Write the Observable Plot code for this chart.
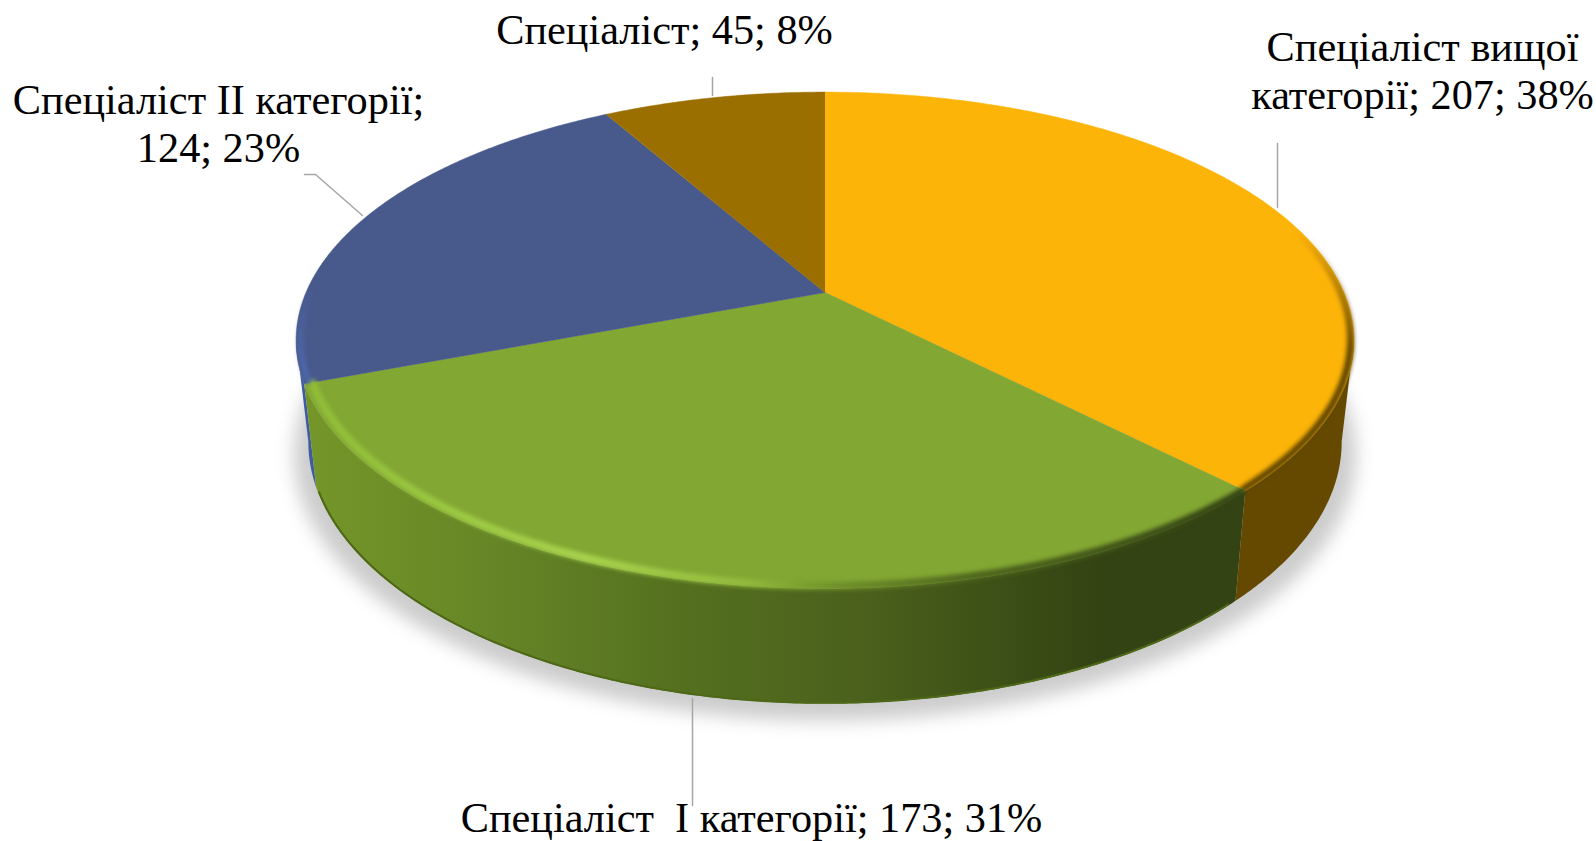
<!DOCTYPE html>
<html lang="uk">
<head>
<meta charset="utf-8">
<script src="https://cdn.jsdelivr.net/npm/d3@7"></script>
<script src="https://cdn.jsdelivr.net/npm/@observablehq/plot@0.6"></script>
<style>
html,body{margin:0;padding:0;background:#fff;overflow:hidden}
svg{display:block}
.shadow{filter:blur(9px)}
.bevel{filter:blur(2.2px)}
</style>
</head>
<body>
<div id="chart"></div>
<script>
// ---- data ----
const categories = ["Спеціаліст вищої категорії", "Спеціаліст\u00A0 І категорії", "Спеціаліст ІІ категорії", "Спеціаліст"];
const counts = [207, 173, 124, 45];
const percents = [38, 31, 23, 8];

// ---- styles ----
const topColors = ["#FDB409", "#83A733", "#48598C", "#9B6E00"];
const font = "Liberation Serif, Times New Roman, serif";

// ---- label layout ----
const labelBreaks = ["Спеціаліст вищої\n", "", "Спеціаліст ІІ категорії;\n", ""];
const labelX = [1422, 751, 218, 664];
const labelY = [69, 816, 122, 28];
const leaderX = [[1277, 1277], [692, 692], [304, 315, 362], [712, 712]];
const leaderY = [[143, 207], [698, 805], [174, 174, 215], [77, 95]];

// ---- perspective disc geometry ----
const k = 0.1926;
const topDisc = {cx: 824.5, cy: 292, R: 519, S: 239};
const baseDisc = {cx: 824.5, cy: 391, R: 507, S: 252};
const pt = (disc, deg, r = 1) => {
  const a = deg * Math.PI / 180, u = r * Math.sin(a), v = -r * Math.cos(a), d = 1 - k * v;
  return [disc.cx + disc.R * u / d, disc.cy + disc.S * v / d];
};
const arc = (disc, a0, a1, r = 1) => {
  const n = Math.max(2, Math.ceil(Math.abs(a1 - a0) * 2));
  return d3.range(n + 1).map(i => {
    const t = i / n;
    return pt(disc, a0 + (a1 - a0) * t, typeof r === "function" ? r(t) : r);
  });
};

// angles derived from the counts
const total = d3.sum(counts);
const stops = [0, ...d3.cumsum(counts)].map(c => c / total * 360);
const [a0, a1, a2, a3, a4] = stops;
const leftTangent = 259, rightTangent = 101;

const wedge = i => [pt(topDisc, 0, 0), ...arc(topDisc, stops[i], stops[i + 1])];
const side = (s, e) => [...arc(topDisc, s, e), ...arc(baseDisc, e, s)];

const poly = (pts, o) => Plot.line(pts, {x: d => d[0], y: d => d[1], stroke: "none", curve: "linear", ...o});
const path = (pts, o) => Plot.line(pts, {x: d => d[0], y: d => d[1], fill: "none", curve: "linear", ...o});

const labels = categories.map((c, i) => {
  const t = `${c}; ${counts[i]}; ${percents[i]}%`;
  const b = labelBreaks[i];
  if (!b) return t;
  const head = b.trimEnd();
  return head + "\n" + t.slice(head.length).trimStart();
});

const defsMark = () => {
  const g = document.createElementNS("http://www.w3.org/2000/svg", "defs");
  g.innerHTML = `
  <linearGradient id="greenSide" gradientUnits="userSpaceOnUse" x1="305" x2="1240" y1="0" y2="0">
    <stop offset="0" stop-color="#759629"/><stop offset=".2" stop-color="#668526"/>
    <stop offset=".4" stop-color="#54701f"/><stop offset=".6" stop-color="#4a601c"/>
    <stop offset=".75" stop-color="#3c4f16"/><stop offset=".85" stop-color="#334313"/><stop offset="1" stop-color="#334313"/>
  </linearGradient>
  <linearGradient id="greenBevel" gradientUnits="userSpaceOnUse" x1="305" x2="1240" y1="0" y2="0">
    <stop offset="0" stop-color="#8fbd38"/><stop offset=".3" stop-color="#a8d34e"/>
    <stop offset=".47" stop-color="#93ba3c"/><stop offset=".57" stop-color="#6f8f2a"/>
    <stop offset=".72" stop-color="#4d651d"/><stop offset="1" stop-color="#334313"/>
  </linearGradient>
  <linearGradient id="yellowBevel" gradientUnits="userSpaceOnUse" x1="0" x2="0" y1="230" y2="350">
    <stop offset="0" stop-color="#5f4500" stop-opacity="0"/><stop offset="1" stop-color="#5f4500" stop-opacity="1"/>
  </linearGradient>
  <linearGradient id="blueBevel" gradientUnits="userSpaceOnUse" x1="0" x2="0" y1="280" y2="360">
    <stop offset="0" stop-color="#4f6bb0" stop-opacity="0"/><stop offset="1" stop-color="#4f6bb0" stop-opacity=".8"/>
  </linearGradient>`;
  return g;
};

const plot = Plot.plot({
  width: 1596, height: 841,
  margin: 0,
  x: {domain: [0, 1596], range: [0, 1596], axis: null},
  y: {domain: [0, 841], range: [0, 841], axis: null},
  style: {background: "#fff"},
  marks: [
    defsMark,
    // ground shadow
    poly(arc({...baseDisc, cy: baseDisc.cy + 12, R: baseDisc.R + 14, S: baseDisc.S + 4}, 0, 360), {fill: "#000", fillOpacity: 0.2, className: "shadow"}),
    // outer walls, back to front
    poly(side(a2, leftTangent), {fill: "#3f5ca3"}),
    poly(side(rightTangent, a1), {fill: "#654900"}),
    poly(side(a1, a2), {fill: "url(#greenSide)"}),
    path(arc(baseDisc, a1 + 1, a2 - 1, 0.998), {stroke: "#4d6817", strokeWidth: 2}),
    // top face
    ...[0, 1, 2, 3].map(i => poly(wedge(i), {fill: topColors[i], stroke: topColors[i], strokeWidth: 0.5})),
    // rounded rim
    path(arc(topDisc, a0 + 60, a1 - 0.4, 0.994), {stroke: "url(#yellowBevel)", strokeWidth: 7, className: "bevel"}),
    path(arc(topDisc, a1 + 0.4, a2 - 0.3, t => 0.997 - 0.011 * t), {stroke: "url(#greenBevel)", strokeWidth: 8, className: "bevel"}),
    path(arc(topDisc, a2 + 0.5, a2 + 30, 0.992), {stroke: "url(#blueBevel)", strokeWidth: 6, className: "bevel"}),
    // leader lines
    ...leaderX.map((xs, i) => Plot.line(xs.map((x, j) => [x, leaderY[i][j]]), {
      x: d => d[0], y: d => d[1], stroke: "#a6a6a6", strokeWidth: 1.5, curve: "linear"
    })),
    // data labels
    Plot.text(labels, {
      x: (d, i) => labelX[i], y: (d, i) => labelY[i], text: d => d,
      fontFamily: font, fontSize: 42.3, lineHeight: 48 / 42.3, fill: "#000", textAnchor: "middle", lineAnchor: "middle"
    })
  ]
});
document.getElementById("chart").appendChild(plot);
</script>
</body>
</html>
